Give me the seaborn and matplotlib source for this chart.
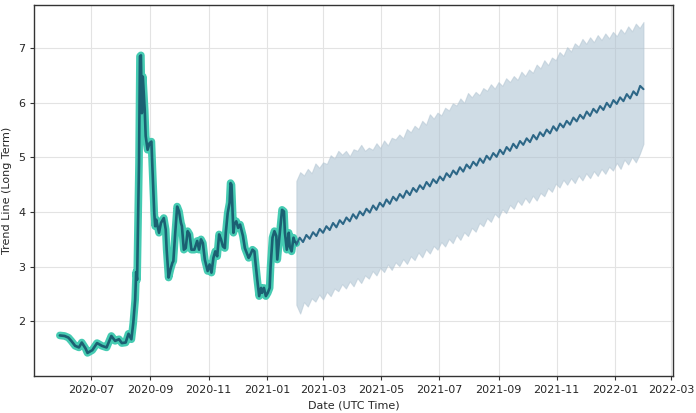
import pandas as pd
import matplotlib
matplotlib.use("Agg")
import matplotlib.pyplot as plt
import matplotlib.dates as mdates
import seaborn as sns

# observed trend line (days after 2020-05-29, value)
hist_days = [0, 5, 9, 12, 16, 20, 23, 27, 29, 34, 39, 44, 49, 54, 58, 62, 65, 69, 72, 75,
             77, 79, 80, 81, 83, 84, 85, 86, 87, 89, 90, 92, 94, 96, 97, 99,
             100, 101, 104, 106, 109, 111, 112, 114, 116, 118, 119, 121, 123, 125, 127, 128,
             130, 132, 134, 136, 138, 141, 144, 146, 148, 150, 152, 155, 157, 159, 161, 163,
             165, 167, 169, 171, 173, 174, 176, 178, 179, 180, 182, 183, 185, 187, 189, 192,
             194, 196, 198, 199, 202, 204, 205, 207, 209, 211, 212, 214, 216, 218, 220, 221,
             223, 225, 227, 228, 230, 233, 235, 236, 238, 240, 241, 243, 245, 246, 248]
hist_vals = [1.74, 1.73, 1.70, 1.64, 1.55, 1.52, 1.61, 1.50, 1.42, 1.47, 1.60, 1.55, 1.52, 1.73,
             1.64, 1.67, 1.60, 1.61, 1.77, 1.67, 1.97, 2.40, 2.90, 2.76, 4.90, 6.85, 6.87, 5.81,
             6.48, 5.87, 5.39, 5.14, 5.26, 5.29, 4.84, 3.98,
             3.74, 3.86, 3.62, 3.80, 3.89, 3.68, 3.31, 2.80, 2.95, 3.07, 3.10, 3.62, 4.10, 4.01,
             3.80, 3.74, 3.31, 3.34, 3.65, 3.59, 3.31, 3.31, 3.47, 3.31, 3.50, 3.43, 3.13, 2.92,
             3.04, 2.89, 3.16, 3.28, 3.19, 3.59, 3.50, 3.37, 3.34, 3.62, 3.98, 4.17, 4.53, 4.50,
             3.62, 3.77, 3.83, 3.71, 3.77, 3.56, 3.34, 3.25, 3.16, 3.19, 3.31, 3.28, 3.10, 2.76,
             2.46, 2.61, 2.52, 2.61, 2.46, 2.52, 2.61, 3.01, 3.53, 3.65, 3.56, 3.13, 3.50, 4.04,
             4.01, 3.62, 3.31, 3.62, 3.37, 3.28, 3.53, 3.47, 3.43]

# forecast trend, every half week from 2021-02-01 (weekly zigzag)
fc_vals = [3.40, 3.53, 3.45, 3.58, 3.51, 3.63, 3.56, 3.69, 3.62, 3.74, 3.67, 3.80, 3.72, 3.85,
           3.78, 3.90, 3.83, 3.96, 3.88, 4.01, 3.94, 4.06, 3.99, 4.12, 4.04, 4.17, 4.10, 4.23,
           4.15, 4.28, 4.21, 4.33, 4.26, 4.39, 4.31, 4.44, 4.37, 4.49, 4.42, 4.55, 4.47, 4.60,
           4.53, 4.65, 4.58, 4.71, 4.64, 4.76, 4.69, 4.82, 4.74, 4.87, 4.80, 4.92, 4.85, 4.98,
           4.90, 5.03, 4.96, 5.08, 5.01, 5.14, 5.06, 5.19, 5.12, 5.25, 5.17, 5.30, 5.23, 5.35,
           5.28, 5.41, 5.33, 5.46, 5.39, 5.51, 5.44, 5.57, 5.49, 5.62, 5.55, 5.67, 5.60, 5.73,
           5.66, 5.78, 5.71, 5.84, 5.76, 5.89, 5.82, 5.94, 5.87, 6.00, 5.92, 6.05, 5.98, 6.10,
           6.03, 6.16, 6.08, 6.21, 6.14, 6.31, 6.25]

# forecast interval, every 4 days from 2021-02-01
band_upper = [4.57, 4.73, 4.67, 4.79, 4.71, 4.89, 4.81, 4.91, 4.88, 5.04, 4.98, 5.12, 5.05, 5.12,
              5.02, 5.15, 5.12, 5.23, 5.12, 5.18, 5.14, 5.26, 5.17, 5.31, 5.22, 5.36, 5.33, 5.42,
              5.35, 5.52, 5.46, 5.58, 5.52, 5.67, 5.60, 5.79, 5.71, 5.82, 5.77, 5.91, 5.86, 5.99,
              5.95, 6.08, 6.00, 6.18, 6.10, 6.20, 6.14, 6.27, 6.22, 6.34, 6.26, 6.38, 6.31, 6.45,
              6.38, 6.49, 6.42, 6.57, 6.49, 6.61, 6.55, 6.70, 6.63, 6.78, 6.69, 6.83, 6.78, 6.93,
              6.86, 7.02, 6.94, 7.09, 7.03, 7.17, 7.08, 7.20, 7.11, 7.24, 7.15, 7.27, 7.18, 7.30,
              7.22, 7.35, 7.27, 7.40, 7.31, 7.45, 7.37, 7.48]
band_lower = [2.30, 2.14, 2.35, 2.27, 2.42, 2.36, 2.49, 2.40, 2.54, 2.46, 2.60, 2.55, 2.68, 2.60,
              2.73, 2.64, 2.79, 2.70, 2.84, 2.78, 2.92, 2.84, 2.98, 2.90, 3.04, 2.94, 3.08, 3.01,
              3.14, 3.05, 3.19, 3.12, 3.26, 3.17, 3.32, 3.24, 3.38, 3.31, 3.45, 3.37, 3.51, 3.43,
              3.58, 3.49, 3.63, 3.56, 3.71, 3.64, 3.80, 3.74, 3.89, 3.82, 3.97, 3.90, 4.05, 3.98,
              4.13, 4.06, 4.21, 4.13, 4.26, 4.17, 4.30, 4.21, 4.35, 4.29, 4.44, 4.37, 4.52, 4.45,
              4.59, 4.50, 4.62, 4.53, 4.67, 4.58, 4.71, 4.62, 4.75, 4.66, 4.79, 4.70, 4.83, 4.76,
              4.90, 4.79, 4.96, 4.87, 5.01, 4.91, 5.06, 5.25]

hist = pd.DataFrame({
    "date": pd.Timestamp("2020-05-29") + pd.to_timedelta(hist_days, unit="D"),
    "value": hist_vals,
})
fc = pd.DataFrame({
    "date": pd.date_range("2021-02-01", periods=len(fc_vals), freq="84h"),
    "value": fc_vals,
})
band = pd.DataFrame({
    "date": pd.date_range("2021-02-01", periods=len(band_upper), freq="4D"),
    "upper": band_upper,
    "lower": band_lower,
})

sns.set_style("whitegrid", {
    "axes.edgecolor": "#333333",
    "grid.color": "#e3e3e3",
    "xtick.bottom": True,
    "ytick.left": True,
})
plt.rcParams["font.family"] = ["DejaVu Sans"]

fig = plt.figure(figsize=(6.96, 4.13), dpi=100)
ax = fig.add_axes([0.049, 0.090, 0.918, 0.899])

ax.fill_between(band["date"], band["lower"], band["upper"],
                color="#a9c0d0", alpha=0.55, linewidth=0.8, edgecolor="#b4c6d3")

sns.lineplot(data=hist, x="date", y="value", ax=ax, color="#45cbb2", linewidth=5.5)
sns.lineplot(data=hist, x="date", y="value", ax=ax, color="#1b6072", linewidth=1.9)
sns.lineplot(data=fc, x="date", y="value", ax=ax, color="#2d6787", linewidth=1.5)

ax.set_xlim(pd.Timestamp("2020-05-02"), pd.Timestamp("2022-03-03"))
ax.set_ylim(1.0, 7.8)
ax.set_yticks([2, 3, 4, 5, 6, 7])
ax.xaxis.set_major_locator(mdates.MonthLocator(bymonth=[1, 3, 5, 7, 9, 11]))
ax.xaxis.set_major_formatter(mdates.DateFormatter("%Y-%m"))
ax.tick_params(labelsize=8, length=3, color="#333333")
ax.set_xlabel("Date (UTC Time)", fontsize=8)
ax.set_ylabel("Trend Line (Long Term)", fontsize=8)
for s in ax.spines.values():
    s.set_linewidth(1.0)

fig.savefig("out.png", dpi=100)
